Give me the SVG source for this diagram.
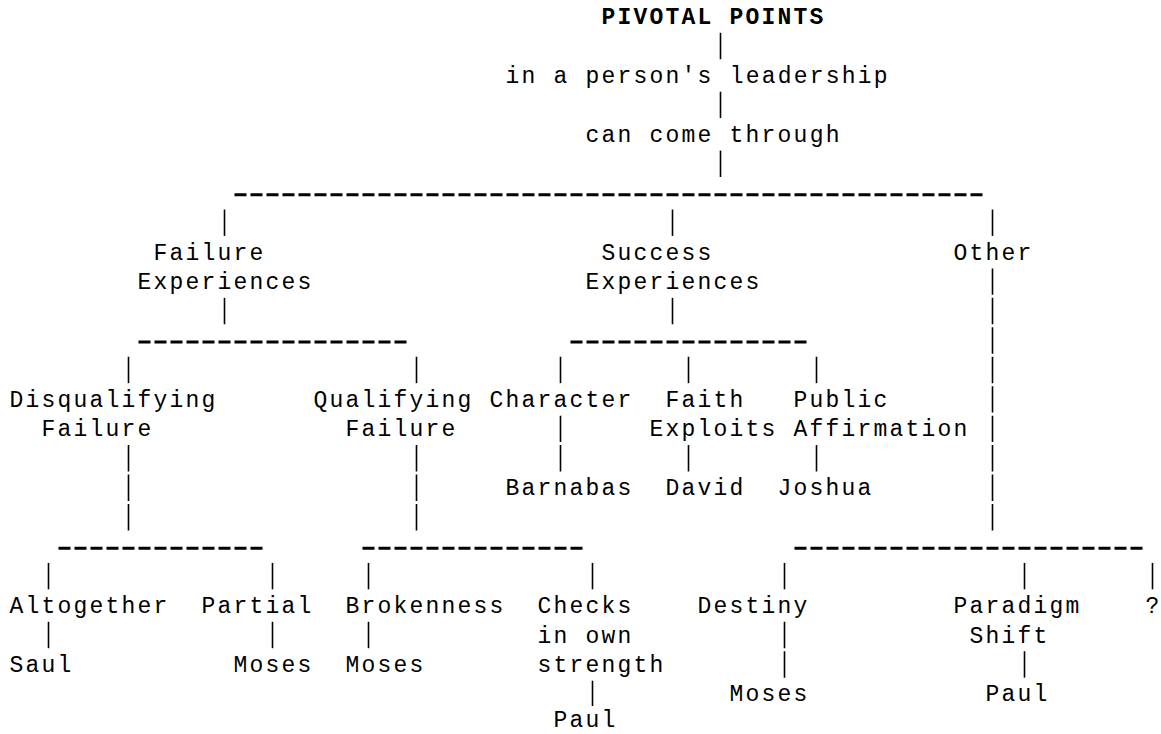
<svg xmlns="http://www.w3.org/2000/svg" width="1161" height="734" viewBox="0 0 1161 734">
<style>
text{font-family:"Liberation Mono",monospace;font-size:23px;letter-spacing:2.2px;fill:#000}
.b{font-weight:bold}
.v{stroke:#000;stroke-width:1.6;stroke-dasharray:26.4 3.05;fill:none}
.h{stroke:#000;stroke-width:3;stroke-dasharray:12 4;fill:none}
</style>
<rect width="1161" height="734" fill="#fff"/>
<g id="connectors">
<line class="v" x1="720.5" y1="32.8" x2="720.5" y2="59.2"/>
<line class="v" x1="720.5" y1="91.7" x2="720.5" y2="118.1"/>
<line class="v" x1="720.5" y1="150.6" x2="720.5" y2="177"/>
<line class="h" x1="234.5" y1="194.75" x2="982.5" y2="194.75"/>
<line class="v" x1="224.5" y1="209.5" x2="224.5" y2="235.9"/>
<line class="v" x1="672.5" y1="209.5" x2="672.5" y2="235.9"/>
<line class="v" x1="992.5" y1="209.5" x2="992.5" y2="235.9"/>
<line class="v" x1="224.5" y1="297.85" x2="224.5" y2="324.25"/>
<line class="v" x1="672.5" y1="297.85" x2="672.5" y2="324.25"/>
<line class="v" x1="992.5" y1="268.4" x2="992.5" y2="530.4"/>
<line class="h" x1="138.5" y1="342" x2="406.5" y2="342"/>
<line class="h" x1="570.5" y1="342" x2="806.5" y2="342"/>
<line class="v" x1="128.5" y1="356.75" x2="128.5" y2="383.15"/>
<line class="v" x1="416.5" y1="356.75" x2="416.5" y2="383.15"/>
<line class="v" x1="560.5" y1="356.75" x2="560.5" y2="383.15"/>
<line class="v" x1="688.5" y1="356.75" x2="688.5" y2="383.15"/>
<line class="v" x1="816.5" y1="356.75" x2="816.5" y2="383.15"/>
<line class="v" x1="128.5" y1="445.1" x2="128.5" y2="530.4"/>
<line class="v" x1="416.5" y1="445.1" x2="416.5" y2="530.4"/>
<line class="v" x1="560.5" y1="415.65" x2="560.5" y2="471.5"/>
<line class="v" x1="688.5" y1="445.1" x2="688.5" y2="471.5"/>
<line class="v" x1="816.5" y1="445.1" x2="816.5" y2="471.5"/>
<line class="h" x1="58.5" y1="548.15" x2="262.5" y2="548.15"/>
<line class="h" x1="362.5" y1="548.15" x2="582.5" y2="548.15"/>
<line class="h" x1="794.5" y1="548.15" x2="1142.5" y2="548.15"/>
<line class="v" x1="48.5" y1="562.9" x2="48.5" y2="589.3"/>
<line class="v" x1="272.5" y1="562.9" x2="272.5" y2="589.3"/>
<line class="v" x1="368.5" y1="562.9" x2="368.5" y2="589.3"/>
<line class="v" x1="592.5" y1="562.9" x2="592.5" y2="589.3"/>
<line class="v" x1="784.5" y1="562.9" x2="784.5" y2="589.3"/>
<line class="v" x1="1024.5" y1="562.9" x2="1024.5" y2="589.3"/>
<line class="v" x1="1152.5" y1="562.9" x2="1152.5" y2="589.3"/>
<line class="v" x1="48.5" y1="621.8" x2="48.5" y2="648.2"/>
<line class="v" x1="272.5" y1="621.8" x2="272.5" y2="648.2"/>
<line class="v" x1="368.5" y1="621.8" x2="368.5" y2="648.2"/>
<line class="v" x1="784.5" y1="621.8" x2="784.5" y2="677.65"/>
<line class="v" x1="1024.5" y1="651.25" x2="1024.5" y2="677.65"/>
<line class="v" x1="592.5" y1="680.7" x2="592.5" y2="706"/>
</g>
<g id="pivotal-points"><text class="b" x="601.6" y="24.05">PIVOTAL POINTS</text></g>
<g id="leadership"><text x="505.6" y="82.95">in a person's leadership</text></g>
<g id="come-through"><text x="585.6" y="141.85">can come through</text></g>
<g id="failure-experiences"><text x="153.6" y="259.65">Failure</text><text x="137.6" y="289.1">Experiences</text></g>
<g id="success-experiences"><text x="601.6" y="259.65">Success</text><text x="585.6" y="289.1">Experiences</text></g>
<g id="other"><text x="953.6" y="259.65">Other</text></g>
<g id="disqualifying-failure"><text x="9.6" y="406.9">Disqualifying</text><text x="41.6" y="436.35">Failure</text></g>
<g id="qualifying-failure"><text x="313.6" y="406.9">Qualifying</text><text x="345.6" y="436.35">Failure</text></g>
<g id="character"><text x="489.6" y="406.9">Character</text></g>
<g id="faith-exploits"><text x="665.6" y="406.9">Faith</text><text x="649.6" y="436.35">Exploits</text></g>
<g id="public-affirmation"><text x="793.6" y="406.9">Public</text><text x="793.6" y="436.35">Affirmation</text></g>
<g id="barnabas"><text x="505.6" y="495.25">Barnabas</text></g>
<g id="david"><text x="665.6" y="495.25">David</text></g>
<g id="joshua"><text x="777.6" y="495.25">Joshua</text></g>
<g id="altogether"><text x="9.6" y="613.05">Altogether</text></g>
<g id="partial"><text x="201.6" y="613.05">Partial</text></g>
<g id="brokenness"><text x="345.6" y="613.05">Brokenness</text></g>
<g id="checks"><text x="537.6" y="613.05">Checks</text><text x="537.6" y="642.5">in own</text><text x="537.6" y="671.95">strength</text></g>
<g id="destiny"><text x="697.6" y="613.05">Destiny</text></g>
<g id="paradigm-shift"><text x="953.6" y="613.05">Paradigm</text><text x="969.6" y="642.5">Shift</text></g>
<g id="unknown"><text x="1145.6" y="613.05">?</text></g>
<g id="saul"><text x="9.6" y="671.95">Saul</text></g>
<g id="moses-partial"><text x="233.6" y="671.95">Moses</text></g>
<g id="moses-brokenness"><text x="345.6" y="671.95">Moses</text></g>
<g id="moses-destiny"><text x="729.6" y="701.4">Moses</text></g>
<g id="paul-paradigm"><text x="985.6" y="701.4">Paul</text></g>
<g id="paul-checks"><text x="553.6" y="727">Paul</text></g>
</svg>
